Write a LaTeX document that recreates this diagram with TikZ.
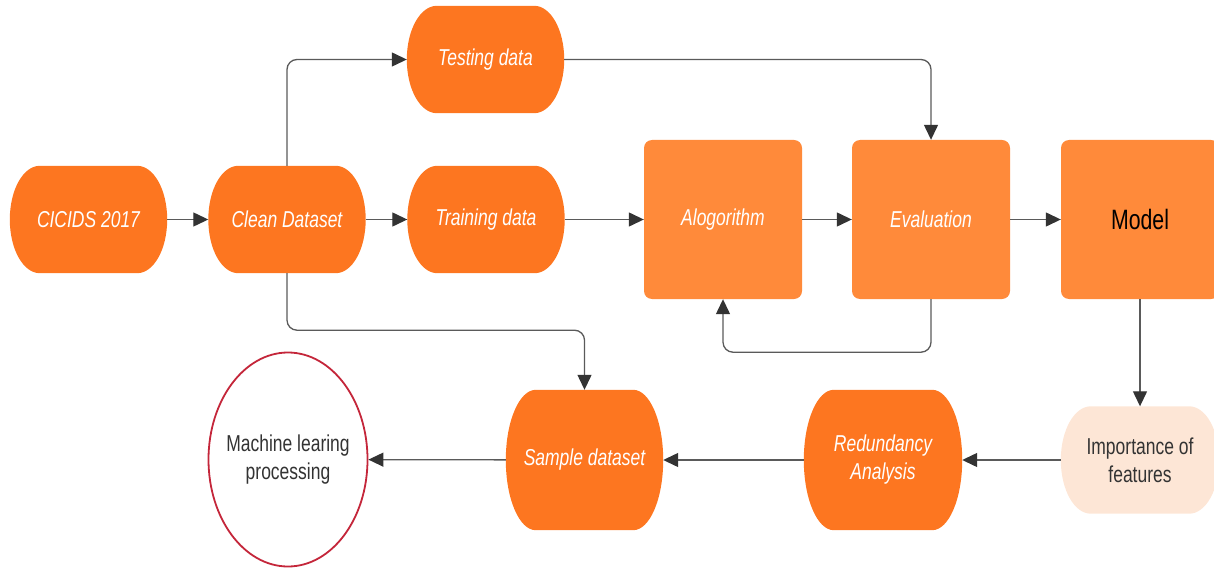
\documentclass[tikz,border=0pt]{standalone}
\usepackage{fontspec}
\newfontfamily\lbl{Liberation Sans}[FakeStretch=0.76]
\usetikzlibrary{arrows.meta,shapes.geometric}
\definecolor{orng}{HTML}{FD7620}
\definecolor{boxorng}{HTML}{FF8A3A}
\definecolor{peach}{HTML}{FDE6D6}
\definecolor{linegray}{HTML}{5A5A5A}
\definecolor{arrowdark}{HTML}{333333}
\definecolor{txtgray}{HTML}{333333}
\definecolor{mlred}{HTML}{C4263A}
\newdimen\stxa \newdimen\stxb \newdimen\stya \newdimen\styb \newdimen\strx \newdimen\stry
\makeatletter
\pgfdeclareshape{stadium}{
  \inheritsavedanchors[from=rectangle]
  \inheritanchorborder[from=rectangle]
  \inheritanchor[from=rectangle]{center}
  \inheritanchor[from=rectangle]{north}
  \inheritanchor[from=rectangle]{south}
  \inheritanchor[from=rectangle]{east}
  \inheritanchor[from=rectangle]{west}
  \inheritanchor[from=rectangle]{north east}
  \inheritanchor[from=rectangle]{north west}
  \inheritanchor[from=rectangle]{south east}
  \inheritanchor[from=rectangle]{south west}
  \inheritanchor[from=rectangle]{base}
  \inheritanchor[from=rectangle]{mid}
  \backgroundpath{
    \southwest \global\stxa=\pgf@x \global\stya=\pgf@y
    \northeast \global\stxb=\pgf@x \global\styb=\pgf@y
    \global\strx=30pt
    \global\stry=\styb \global\advance\stry by -\stya \global\stry=0.5\stry
    \global\advance\stxa by \strx
    \global\advance\stxb by -\strx
    \pgfpathmoveto{\pgfqpoint{\stxa}{\styb}}
    \pgfpathlineto{\pgfqpoint{\stxb}{\styb}}
    \pgfpatharc{90}{-90}{\strx and \stry}
    \pgfpathlineto{\pgfqpoint{\stxa}{\stya}}
    \pgfpatharc{270}{90}{\strx and \stry}
    \pgfpathclose
  }
}
\makeatother
\begin{document}
\begin{tikzpicture}[x=1pt,y=-1pt,
  stad/.style={shape=stadium, fill=orng, draw=none, minimum width=157pt, minimum height=107pt,
    inner sep=0pt, text=white, align=center, font=\lbl\itshape\fontsize{23}{28}\selectfont},
  tall/.style={stad, minimum height=140pt},
  sqbox/.style={rectangle, rounded corners=8pt, fill=boxorng, draw=none, minimum width=158pt,
    minimum height=159pt, inner sep=0pt, text=white, font=\lbl\itshape\fontsize{23}{28}\selectfont},
  conn/.style={draw=linegray, line width=1.3pt, -{Triangle[length=15pt,width=14pt,color=arrowdark]}},
  elbow/.style={conn, rounded corners=10pt}]
\useasboundingbox (0,0) rectangle (1214,569);
\clip (0,0) rectangle (1214,569);
% nodes
\node[stad] (cic) at (88.5,219.5) {CICIDS 2017};
\node[stad] (clean) at (287,219.5) {Clean Dataset};
\node[stad] (train) at (486,219.5) {Training data};
\node[stad] (test) at (485.5,59.5) {Testing data};
\node[sqbox] (algo) at (723,219.5) {Alogorithm};
\node[sqbox] (eval) at (931,219.5) {Evaluation};
\node[sqbox, text=black, font=\lbl\fontsize{28}{32}\selectfont] (model) at (1140,219.5) {Model};
\node[stad, fill=peach, text=txtgray, font=\lbl\fontsize{23}{28}\selectfont, minimum width=158pt] (imp) at (1140,460) {Importance of\\features};
\node[tall, minimum width=158pt] (red) at (883,460) {Redundancy\\Analysis};
\node[tall] (samp) at (584.5,460) {Sample dataset};
\node[ellipse, draw=mlred, line width=1.8pt, fill=white, minimum width=159pt, minimum height=214pt,
  inner xsep=-12pt, inner ysep=0pt, text=txtgray, align=center, font=\lbl\fontsize{23}{28}\selectfont] (ml) at (288,459.5) {Machine learing\\processing};
% connectors
\draw[conn] (cic) -- (clean);
\draw[conn] (clean) -- (train);
\draw[elbow] (clean.north) |- (test.west);
\draw[elbow] (test.east) -| (eval.north);
\draw[conn] (train) -- (algo);
\draw[conn] (algo) -- (eval);
\draw[conn] (eval) -- (model);
\draw[elbow] (eval.south) -- ++(0,53) -| (algo.south);
\draw[elbow] (clean.south) -- ++(0,57) -| (samp.north);
\draw[conn] (model) -- (imp);
\draw[conn] (imp) -- (red);
\draw[conn] (red) -- (samp);
\draw[conn] (samp) -- (ml);
\end{tikzpicture}
\end{document}
